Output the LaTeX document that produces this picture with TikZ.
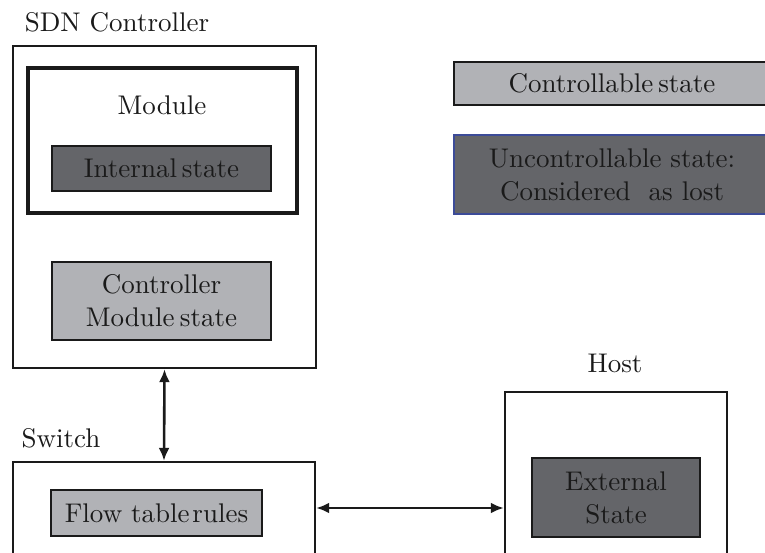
\documentclass[tikz,border=0pt]{standalone}
\usepackage{fontspec}
\setmainfont{lmroman10-regular.otf}
\usetikzlibrary{arrows.meta}
\definecolor{lightstate}{HTML}{B1B2B6}
\definecolor{darkstate}{HTML}{646569}
\definecolor{lostedge}{HTML}{3C4B98}
\definecolor{ink}{HTML}{1A1A1A}
\tikzset{
  x=1pt, y=-1pt,
  every node/.style={font=\fontsize{27}{33}\selectfont, text=ink, align=center, inner sep=0pt},
  frame/.style={draw=ink, line width=2.4pt, fill=white},
  modframe/.style={draw=ink, line width=3.4pt, fill=white},
  ctlstate/.style={draw=ink, line width=2.8pt, fill=lightstate},
  lostate/.style={draw=ink, line width=2.8pt, fill=darkstate},
  arr/.style={draw=ink, line width=2.6pt, {Latex[length=13pt,width=11pt]}-{Latex[length=13pt,width=11pt]}},
}
\begin{document}
\begin{tikzpicture}
\useasboundingbox (0,0) rectangle (765,552);
\fill[white] (0,0) rectangle (765,552);

% controller and its module
\node[frame, minimum width=303, minimum height=322] (ctrl) at (164.5,207) {};
\node (ctrltitle) at (117,22) {SDN Controller};
\node[modframe, minimum width=269, minimum height=145] (module) at (162.5,140.5) {};
\node (modtitle) at (162,105) {Module};
\node[lostate, minimum width=219, minimum height=45] (internal) at (161.5,168.5) {Internal\hspace{0.18em}state};
\node[ctlstate, minimum width=219, minimum height=78] (cms) at (161.5,301) {Controller\\Module\hspace{0.2em}state};

% legend
\node[ctlstate, minimum width=316, minimum height=43] (legctl) at (612,83.5) {Controllable\hspace{0.18em}state};
\node[lostate, draw=lostedge, minimum width=316, minimum height=79] (leglost) at (612,174.5) {Uncontrollable state:\\Considered\ \ as lost};

% switch
\node[frame, minimum width=302, minimum height=98] (switch) at (164,511) {};
\node (switchtitle) at (61,438) {Switch};
\node[ctlstate, minimum width=211, minimum height=46] (flow) at (156.5,513) {Flow table\hspace{0.1em}rules};

% host
\node[frame, minimum width=222, minimum height=168] (host) at (616,476) {};
\node (hosttitle) at (615,363) {Host};
\node[lostate, minimum width=168, minimum height=79] (external) at (616,497.5) {External\\State};

% links
\draw[arr] (ctrl.south) -- (switch.north);
\draw[arr] ([yshift=3pt]switch.east) -- ([yshift=3pt]switch.east -| host.west);
\end{tikzpicture}
\end{document}
